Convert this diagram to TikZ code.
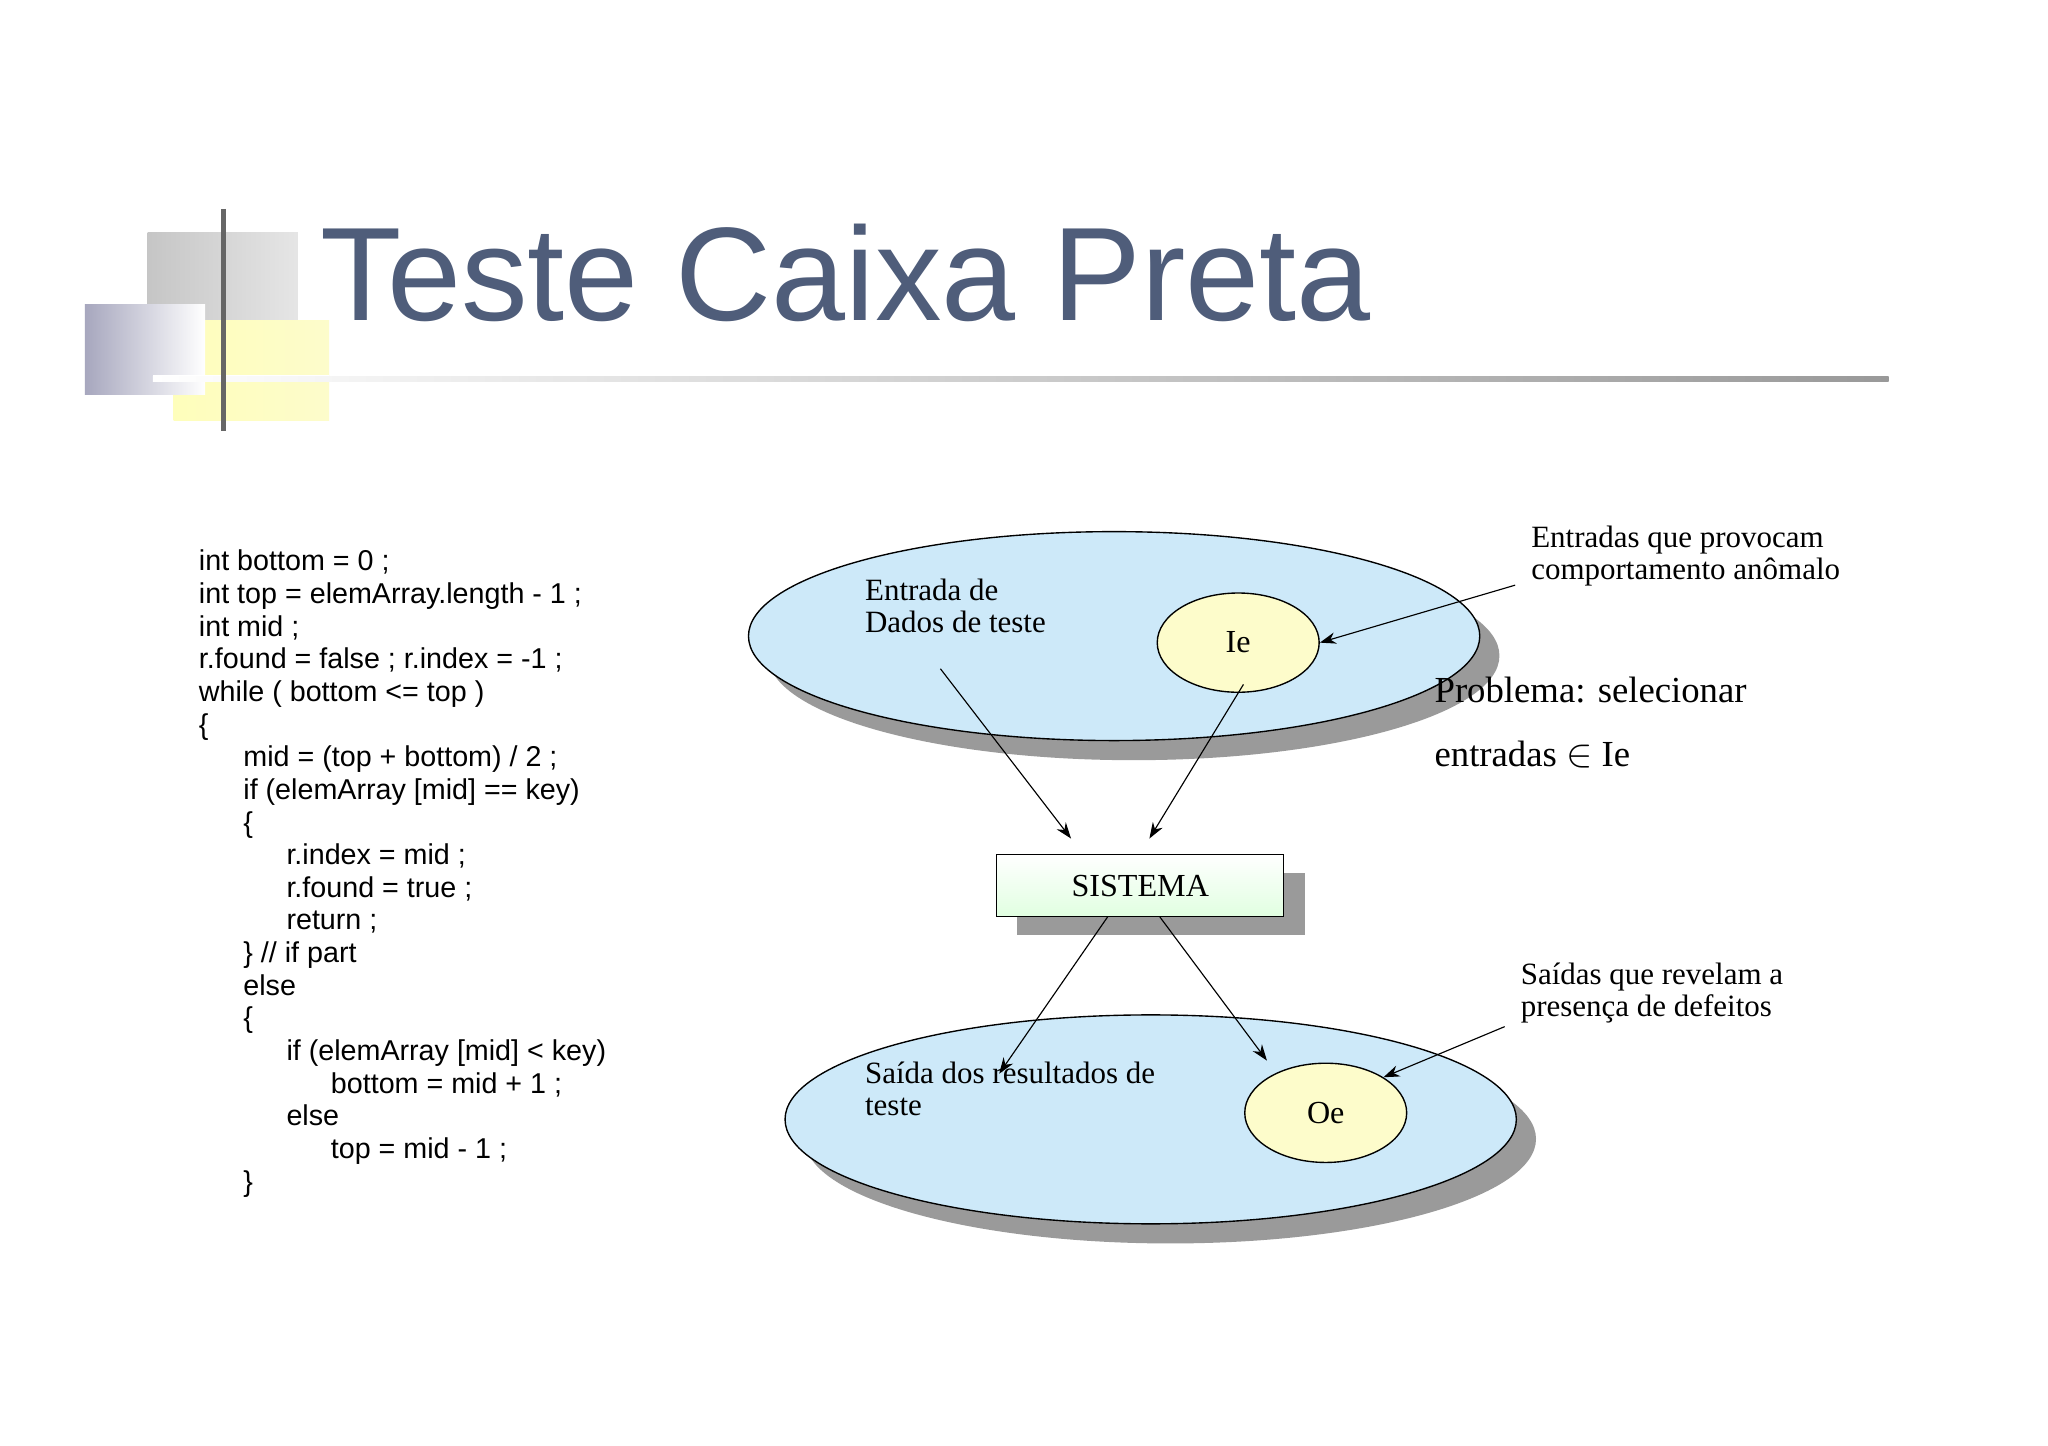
\documentclass[tikz,border=0pt]{standalone}
\usepackage{fontspec}
\setmainfont{Liberation Serif}
\setsansfont{Liberation Sans}
\usetikzlibrary{arrows.meta,shapes.geometric}
\definecolor{titlec}{HTML}{4F5D7A}
\definecolor{ellc}{HTML}{CDE9F9}
\definecolor{yelc}{HTML}{FDFCCB}
\definecolor{shad}{HTML}{9A9A9A}
\tikzset{
  code/.style={anchor=base west,font=\sffamily\fontsize{12.5}{14}\selectfont,inner sep=0},
  lbl/.style={anchor=base west,font=\fontsize{13.5}{16}\selectfont,inner sep=0,align=left},
  arr/.style={-{Stealth[length=7pt,width=5pt]},line width=0.5pt},
  big/.style={draw,line width=0.6pt,fill=ellc,ellipse,minimum width=11.2cm,minimum height=3.2cm},
  small/.style={draw,line width=0.6pt,fill=yelc,ellipse,minimum width=2.48cm,minimum height=1.52cm,font=\fontsize{14}{16}\selectfont},
}
\begin{document}
\begin{tikzpicture}[x=0.02cm,y=-0.02cm]
\useasboundingbox (0,0) rectangle (1568,1107);
\fill[white] (0,0) rectangle (1568,1107);
% decoration
\shade[left color=gray!45,right color=gray!20] (113,178) rectangle (228,245);
\shade[left color=yelc!70!yellow!60,right color=yelc] (133,245) rectangle (252,322);
\shade[left color=blue!15!gray!60,right color=white] (65,233) rectangle (157,302);
\draw[white,line width=3pt] (117,290) -- (252,290);
\shade[left color=white,right color=gray!80] (117,288) rectangle (1446,292);
\draw[gray!80!black,line width=2pt] (171,160) -- (171,330);
\node[anchor=base west,font=\sffamily\fontsize{58}{60}\selectfont,text=titlec,inner sep=0] (title) at (245,245) {Teste Caixa Preta};
% code
\foreach \t [count=\i] in {int bottom = 0 ;,int top = elemArray.length - 1 ;,int mid ;,r.found = false ; r.index = -1 ;,while ( bottom <= top ),\{}
  \node[code] (c\i) at (152,437+25*\i-25) {\t};
\node[code] (c7) at (186,587) {mid = (top + bottom) / 2 ;};
\node[code] (c8) at (186,612) {if (elemArray [mid] == key)};
\node[code] (c9) at (186,637) {\{};
\node[code] (c10) at (219,662) {r.index = mid ;};
\node[code] (c11) at (219,687) {r.found = true ;};
\node[code] (c12) at (219,712) {return ;};
\node[code] (c13) at (186,737) {\} // if part};
\node[code] (c14) at (186,762) {else};
\node[code] (c15) at (186,787) {\{};
\node[code] (c16) at (219,812) {if (elemArray [mid] < key)};
\node[code] (c17) at (253,837) {bottom = mid + 1 ;};
\node[code] (c18) at (219,862) {else};
\node[code] (c19) at (253,887) {top = mid - 1 ;};
\node[code] (c20) at (186,912) {\}};
% diagram
\fill[shad] (868,502) ellipse [x radius=280, y radius=80];
\node[big] (top) at (853,487) {};
\node[small] (ie) at (948,492) {Ie};
\fill[shad] (896,872) ellipse [x radius=280, y radius=80];
\node[big] (bot) at (881,857) {};
\node[small] (oe) at (1015,852) {Oe};
\fill[shad] (779,668) rectangle (999,716);
\shade[top color=white,bottom color=green!12,draw=black] (763,654) rectangle (983,702);
\node[font=\fontsize{14}{16}\selectfont] (sis) at (873,678) {SISTEMA};
\node[lbl] (ent) at (662,484) {Entrada de\\[-2pt]Dados de teste};
\node[lbl] (saida) at (662,854) {Saída dos resultados de\\[-2pt]teste};
\node[lbl] (entr) at (1172,444) {Entradas que provocam\\[-2pt]comportamento anômalo};
\node[lbl] (said) at (1164,778) {Saídas que revelam a\\[-2pt]presença de defeitos};
\node[lbl,font=\fontsize{16}{25}\selectfont] (prob) at (1098,587) {Problema: selecionar\\[3pt]entradas $\in$ Ie};
\coordinate (a1) at (720,512); \coordinate (a2) at (820,642);
\coordinate (b1) at (952,524); \coordinate (b2) at (880,642);
\coordinate (d1) at (848,702); \coordinate (d2) at (765,822);
\coordinate (e1) at (888,702); \coordinate (e2) at (970,812);
\coordinate (f1) at (1160,448); \coordinate (g1) at (1152,786);
\draw[arr] (a1) -- (a2);
\draw[arr] (b1) -- (b2);
\draw[arr] (d1) -- (d2);
\draw[arr] (e1) -- (e2);
\draw[arr] (f1) -- (ie.east);
\draw[arr] (g1) -- (oe.north east);
\end{tikzpicture}
\end{document}
